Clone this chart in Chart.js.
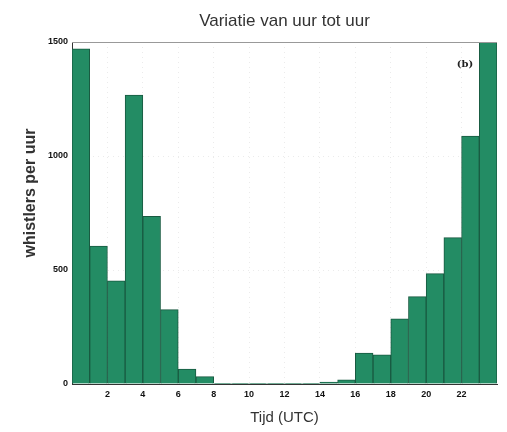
<!DOCTYPE html>
<html>
<head>
<meta charset="utf-8">
<script src="https://cdn.jsdelivr.net/npm/chart.js@4/dist/chart.umd.min.js"></script>
<style>
  body { margin: 0; background: #fff; }
</style>
</head>
<body>
<canvas id="myChart" width="507" height="432"></canvas>
<script>
// uren 0..23, waarden
const hours = [0,1,2,3,4,5,6,7,8,9,10,11,12,13,14,15,16,17,18,19,20,21,22,23];
const whistlers = [1470,605,453,1267,735,326,65,32,3,3,3,3,3,3,8,18,136,128,286,383,484,642,1087,1500];
const yTicks = [0,500,1000,1500];
const xTickLabels = [2,4,6,8,10,12,14,16,18,20,22];

const points = hours.map((h, i) => ({x: h + 0.5, y: whistlers[i]}));

// extra tekst: y-as titel en (b)
const extraText = {
  id: 'extraText',
  afterDraw(chart) {
    const ctx = chart.ctx;
    const area = chart.chartArea;
    ctx.save();
    // bovenrand
    ctx.strokeStyle = '#999';
    ctx.lineWidth = 1;
    ctx.beginPath();
    ctx.moveTo(area.left, area.top + 0.5);
    ctx.lineTo(area.right, area.top + 0.5);
    ctx.stroke();

    ctx.fillStyle = '#222';
    ctx.font = 'bold 10px "DejaVu Serif"';
    ctx.textAlign = 'center';
    ctx.textBaseline = 'middle';
    ctx.fillText('(b)', 465, 64);

    ctx.translate(31, 193);
    ctx.rotate(-Math.PI / 2);
    ctx.font = 'bold 16px "Liberation Sans"';
    ctx.fillStyle = '#333';
    ctx.fillText('whistlers per uur', 0, 0);
    ctx.restore();
  }
};

let ctx = document.getElementById('myChart').getContext('2d');

let myChart = new Chart(ctx, {
  type: 'bar',
  data: {
    datasets: [{
      label: 'whistlers per uur',
      data: points,
      backgroundColor: '#238c64',
      borderColor: '#195a41',
      borderWidth: 1,
      barPercentage: 1,
      categoryPercentage: 1
    }]
  },
  options: {
    responsive: false,
    animation: false,
    layout: { padding: { left: 0, right: 10, top: 0, bottom: 0 } },
    plugins: {
      legend: { display: false },
      tooltip: { enabled: false },
      title: {
        display: true,
        text: 'Variatie van uur tot uur',
        fullSize: false,
        color: '#333',
        font: { family: '"Liberation Sans"', size: 17, weight: 'normal' },
        padding: { top: 11, bottom: 10.6 }
      }
    },
    scales: {
      x: {
        type: 'linear',
        min: 0,
        max: 24,
        offset: false,
        afterFit: (scale) => { scale.height = 48; },
        afterBuildTicks: (scale) => {
          scale.ticks = xTickLabels.map(v => ({value: v}));
        },
        ticks: {
          padding: 5,
          color: '#111',
          font: { family: '"Liberation Sans"', size: 9, weight: 'bold' },
          maxRotation: 0,
          callback: (v) => String(v)
        },
        grid: {
          drawTicks: false,
          offset: false,
          color: 'rgba(0,0,0,0.08)'
        },
        border: { display: true, color: '#333', width: 1, dash: [1, 4] },
        title: {
          display: true,
          text: 'Tijd (UTC)',
          color: '#333',
          font: { family: '"Liberation Sans"', size: 15 },
          padding: { top: 0, bottom: 5 }
        }
      },
      y: {
        min: 0,
        max: 1500,
        afterFit: (scale) => { scale.width = 72; },
        afterBuildTicks: (scale) => {
          scale.ticks = yTicks.map(v => ({value: v}));
        },
        ticks: {
          padding: 4,
          color: '#111',
          font: { family: '"Liberation Sans"', size: 9, weight: 'bold' },
          callback: (v) => String(v)
        },
        grid: {
          drawTicks: false,
          color: 'rgba(0,0,0,0.08)'
        },
        border: { display: true, color: '#333', width: 1, dash: [1, 4] }
      }
    }
  },
  plugins: [extraText]
});
</script>
</body>
</html>
